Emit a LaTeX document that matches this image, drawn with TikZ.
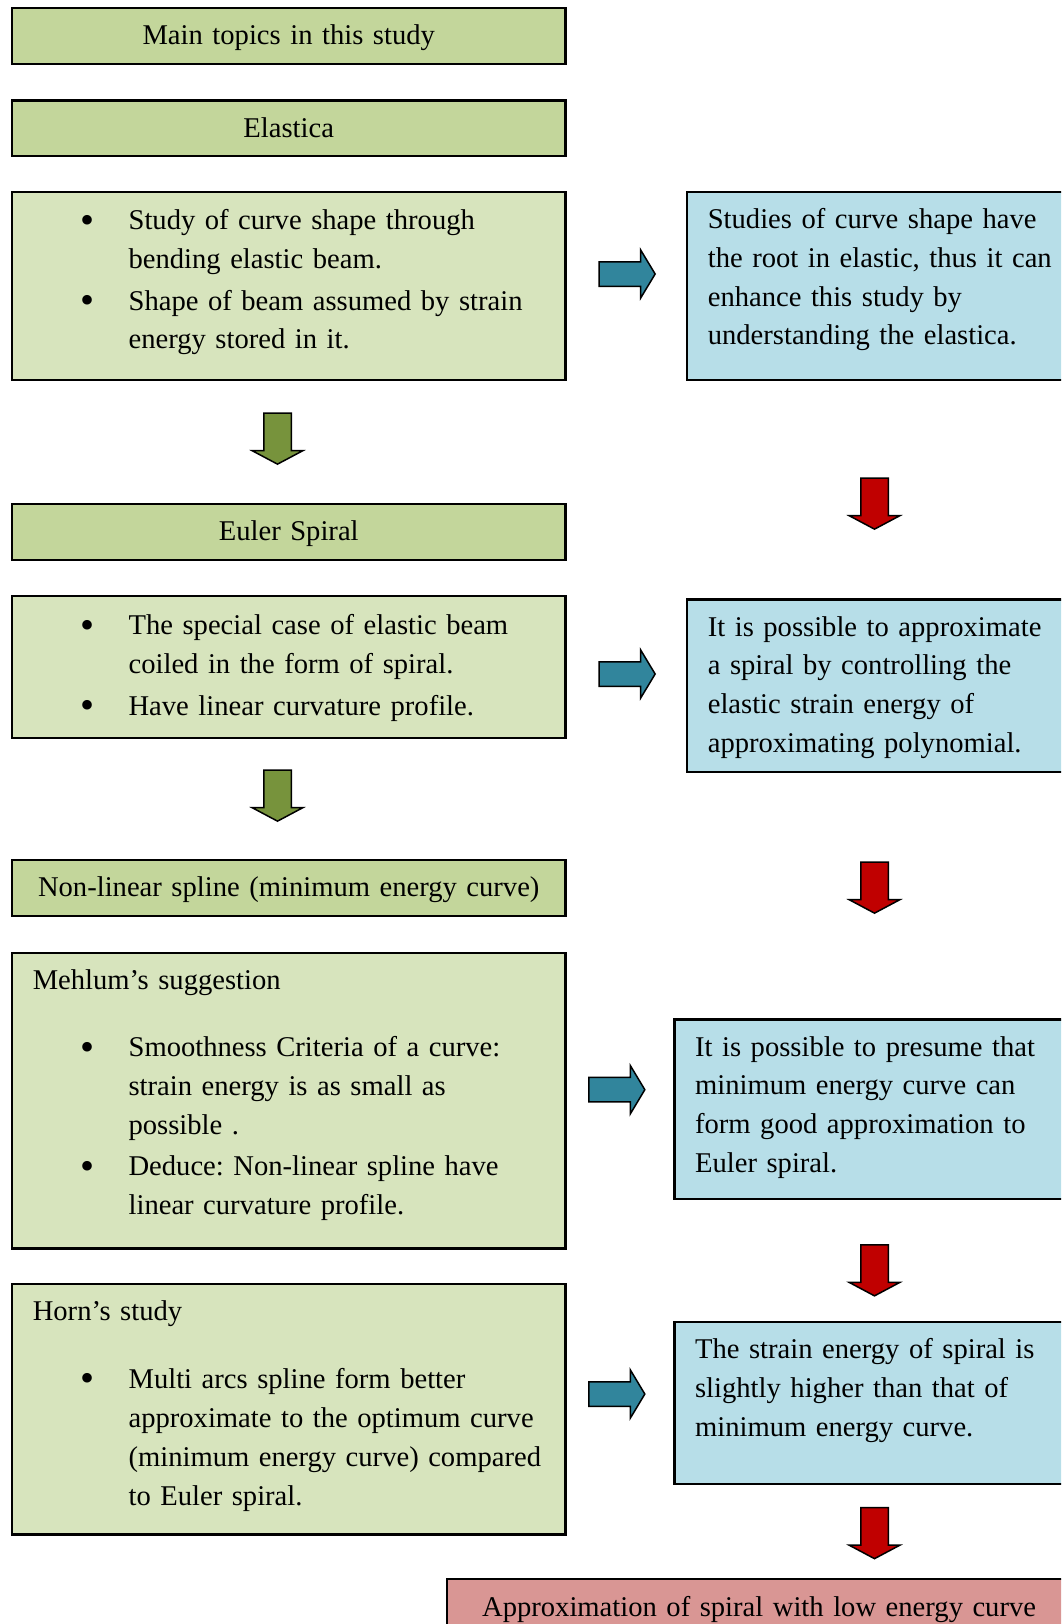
\documentclass[tikz,border=0pt]{standalone}
\usepackage{fontspec}
\setmainfont{Liberation Serif}
\usepackage{tikz}
\usetikzlibrary{shapes.arrows}
\definecolor{topicGreen}{HTML}{C3D69B}
\definecolor{detailGreen}{HTML}{D7E4BD}
\definecolor{remarkBlue}{HTML}{B7DEE8}
\definecolor{resultRed}{HTML}{D99694}
\definecolor{arrowGreen}{HTML}{77933C}
\definecolor{arrowBlue}{HTML}{31859C}
\definecolor{arrowRed}{HTML}{C00000}
\tikzstyle{box} = [draw=black, line width=2.2pt, rectangle, anchor=north west,
        inner ysep=0pt, inner xsep=10pt,
        font=\fontsize{28.6}{38.85}\selectfont\frenchspacing]
\tikzstyle{topic} = [box, fill=topicGreen, text width=533.3pt, align=center,
        text height=36.5pt, text depth=19pt]
\tikzstyle{detail} = [box, fill=detailGreen, text width=533.3pt, align=left]
\tikzstyle{remark} = [box, fill=remarkBlue, inner xsep=20.7pt, text width=420pt,
        align=left, text height=36.7pt]
\tikzstyle{result} = [box, fill=resultRed, text width=604pt, align=center,
        text height=38pt, text depth=30pt]
\tikzstyle{blockdown} = [single arrow, draw=black, line width=1.5pt, rotate=-90,
        inner xsep=0pt, inner ysep=13pt, single arrow head extend=11.5pt,
        single arrow tip angle=124, minimum height=51pt, anchor=tip]
\tikzstyle{blockright} = [single arrow, draw=black, line width=1.5pt, fill=arrowBlue,
        inner xsep=0pt, inner ysep=11.5pt, single arrow head extend=12pt,
        single arrow tip angle=118, minimum height=56pt, anchor=tip]
\newcommand{\bdot}{\raisebox{-3.4pt}{\scalebox{1.4}{\textbullet}}}
\newcommand{\bitem}{\leftskip=106.5pt\noindent\llap{\bdot\hspace{34.5pt}}}
\newcommand{\bgap}{\par\vspace{2.6pt}}
\newcommand{\boxhead}[1]{\leftskip=10.7pt\noindent #1\par\vspace{28.8pt}}

\begin{document}
\begin{tikzpicture}[x=1pt, y=-1pt]
            \useasboundingbox (0,0) rectangle (1061,1624);
            \clip (0,0) rectangle (1061,1624);
            % left column
            \node [topic] (main) at (11,7.3) {Main topics in this study};
            \node [topic] (elastica) at (11,99.5) {Elastica};
            \node [detail, text height=38pt, text depth=150.6pt] (elasticaPts) at (11,190.6)
                {\bitem Study of curve shape through\\bending elastic beam.\bgap
                 \bitem Shape of beam assumed by strain\\energy stored in it.\par};
            \node [topic, text depth=19.5pt] (euler) at (11,502.7) {Euler Spiral};
            \node [detail, text height=38.8pt, text depth=102.9pt] (eulerPts) at (11,595)
                {\bitem The special case of elastic beam\\coiled in the form of spiral.\bgap
                 \bitem Have linear curvature profile.\par};
            \node [topic, text depth=19.5pt] (spline) at (11,859) {Non-linear spline (minimum energy curve)};
            \node [detail, text height=36.3pt, text depth=259.3pt] (mehlum) at (11,951.7)
                {\boxhead{Mehlum's suggestion}
                 \bitem Smoothness Criteria of a curve:\\strain energy is as small as\\possible .\bgap
                 \bitem Deduce: Non-linear spline have\\linear curvature profile.\par};
            \node [detail, text height=37pt, text depth=213.6pt] (horn) at (11,1282.7)
                {\boxhead{Horn's study}
                 \bitem Multi arcs spline form better\\approximate to the optimum curve\\(minimum energy curve) compared\\to Euler spiral.\par};
            % right column
            \node [remark, text depth=151.9pt] (root) at (686,190.6)
                {Studies of curve shape have\\the root in elastic, thus it can\\enhance this study by\\understanding the elastica.};
            \node [remark, text depth=136pt] (approx) at (686,598.3)
                {It is possible to approximate\\a spiral by controlling the\\elastic strain energy of\\approximating polynomial.};
            \node [remark, text depth=142.7pt] (presume) at (673.3,1018.3)
                {It is possible to presume that\\minimum energy curve can\\form good approximation to\\Euler spiral.};
            \node [remark, text depth=125.3pt] (higher) at (673.3,1320.7)
                {The strain energy of spiral is\\slightly higher than that of\\minimum energy curve.};
            \node [result] (final) at (446,1577.7) {Approximation of spiral with low energy curve};
            % block arrows
            \foreach \n/\y in {1/465, 2/822}
                \node [blockdown, fill=arrowGreen] (down\n) at (277.5,\y) {};
            \foreach \n/\y in {1/530, 2/914, 3/1296.7, 4/1559.5}
                \node [blockdown, fill=arrowRed] (next\n) at (874.5,\y) {};
            \foreach \n/\x/\y in {1/656/274, 2/656/674, 3/645.7/1089.7, 4/645.7/1394}
                \node [blockright] (side\n) at (\x,\y) {};
\end{tikzpicture}
\end{document}
